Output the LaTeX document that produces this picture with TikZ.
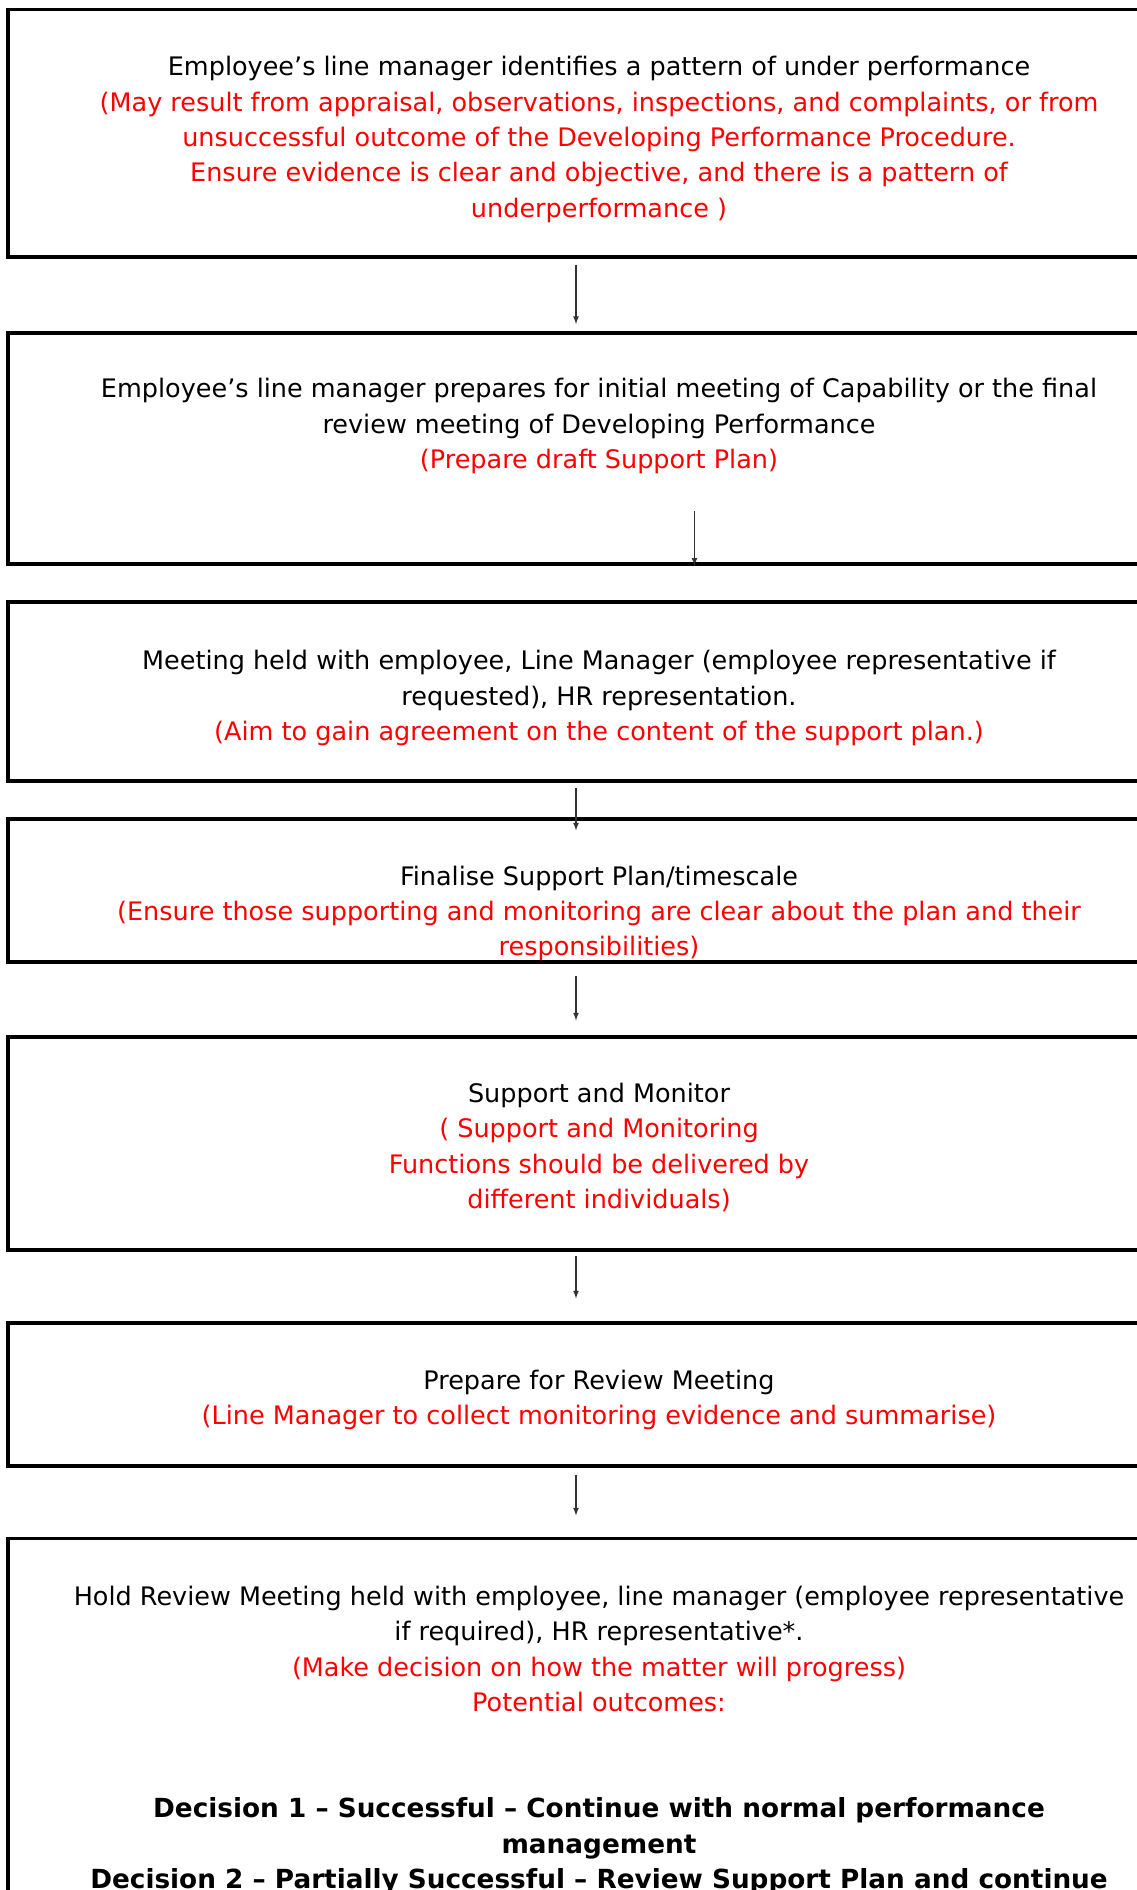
\documentclass[tikz,border=0pt]{standalone}
\usepackage{fontspec}
\setmainfont{DejaVu Sans}
\usepackage{xcolor}
\usepackage{tikz}
\newcommand{\decisionfont}{\fontsize{26.3}{35.4}\selectfont\bfseries}

\begin{document}
\begin{tikzpicture}[x=1pt,y=1pt]
			\tikzstyle{stage} = [draw, line width=3.2pt, minimum width=1182pt, inner sep=0pt]
			\tikzstyle{say} = [align=center, inner sep=0pt, font=\fontsize{25.5}{35.4}\selectfont]
			\tikzset{flow/.style = {line width=1.6pt, draw=black!80, >=latex, ->}}
			
			\useasboundingbox (0,0) rectangle (1137,-1890);
			\clip (0,0) rectangle (1137,-1890);
			
			\node[stage, minimum height=247.4pt](box1) at (599,-133.3) {};
			\node[stage, minimum height=231pt](box2) at (599,-448.5) {};
			\node[stage, minimum height=179pt](box3) at (599,-691.5) {};
			\node[stage, minimum height=143pt](box4) at (599,-890.5) {};
			\node[stage, minimum height=213pt](box5) at (599,-1143.5) {};
			\node[stage, minimum height=143pt](box6) at (599,-1394.5) {};
			\node[stage, minimum height=561pt](box7) at (599,-1819) {};
			
			\node[say](text1) at (599,-139.5) {Employee’s line manager identifies a pattern of under performance\\
				\textcolor{red}{(May result from appraisal, observations, inspections, and complaints, or from}\\
				\textcolor{red}{unsuccessful outcome of the Developing Performance Procedure.}\\
				\textcolor{red}{Ensure evidence is clear and objective, and there is a pattern of}\\
				\textcolor{red}{underperformance )}};
			\node[say](text2) at (599,-426) {Employee’s line manager prepares for initial meeting of Capability or the final\\
				review meeting of Developing Performance\\
				\textcolor{red}{(Prepare draft Support Plan)}};
			\node[say](text3) at (599,-698) {Meeting held with employee, Line Manager (employee representative if\\
				requested), HR representation.\\
				\textcolor{red}{(Aim to gain agreement on the content of the support plan.)}};
			\node[say](text4) at (599,-913.5) {Finalise Support Plan/timescale\\
				\textcolor{red}{(Ensure those supporting and monitoring are clear about the plan and their}\\
				\textcolor{red}{responsibilities)}};
			\node[say](text5) at (599,-1147.5) {Support and Monitor\\
				\textcolor{red}{( Support and Monitoring}\\
				\textcolor{red}{Functions should be delivered by}\\
				\textcolor{red}{different individuals)}};
			\node[say](text6) at (599,-1400) {Prepare for Review Meeting\\
				\textcolor{red}{(Line Manager to collect monitoring evidence and summarise)}};
			\node[say, anchor=north](text7) at (599,-1586) {Hold Review Meeting held with employee, line manager (employee representative\\
				if required), HR representative*.\\
				\textcolor{red}{(Make decision on how the matter will progress)}\\
				\textcolor{red}{Potential outcomes:}\\[70.8pt]
				{\decisionfont Decision 1 – Successful – Continue with normal performance}\\
				{\decisionfont management}\\
				{\decisionfont Decision 2 – Partially Successful – Review Support Plan and continue}};
			
			\draw[flow]([shift={(-23,-6)}]box1.south) to ([shift={(-23,7.4)}]box2.north);
			\draw[flow]([shift={(95.5,55)}]box2.south) to ([xshift=95.5]box2.south);
			\draw[flow]([shift={(-23,-5)}]box3.south) to ([shift={(-23,-13)}]box4.north);
			\draw[flow]([shift={(-23,-12)}]box4.south) to ([shift={(-23,15)}]box5.north);
			\draw[flow]([shift={(-23,-4)}]box5.south) to ([shift={(-23,23)}]box6.north);
			\draw[flow]([shift={(-23,-7)}]box6.south) to ([shift={(-23,21.5)}]box7.north);
			
\end{tikzpicture}
\end{document}
